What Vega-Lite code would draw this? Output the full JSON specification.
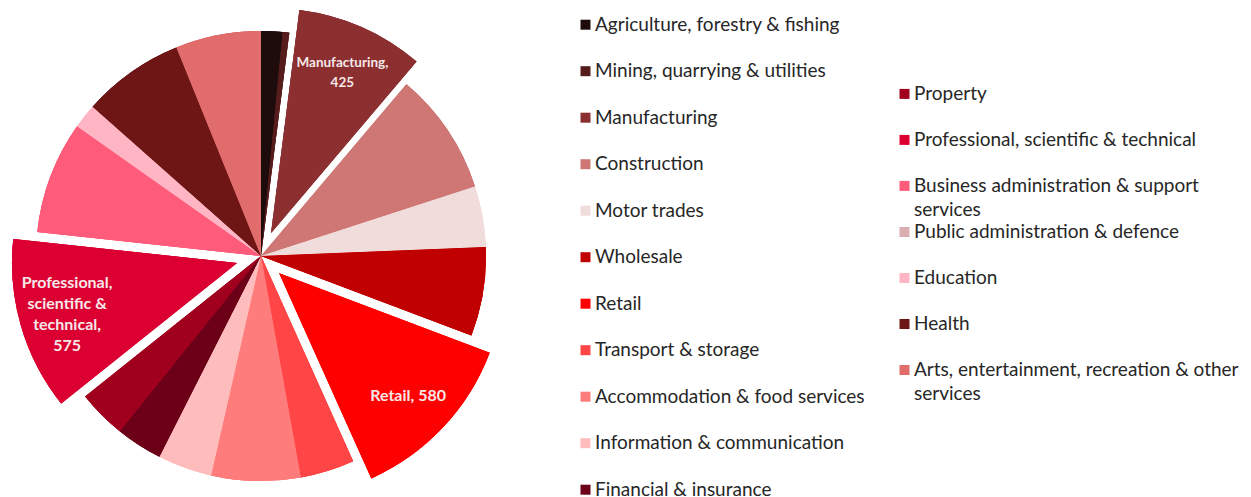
{
  "$schema": "https://vega.github.io/schema/vega-lite/v6.json",
  "width": 522,
  "height": 512,
  "padding": 0,
  "autosize": {"type": "pad"},
  "background": "white",
  "data": {
    "values": [
      {"sector": "Agriculture, forestry & fishing", "value": 71},
      {"sector": "Mining, quarrying & utilities", "value": 22},
      {"sector": "Manufacturing", "value": 425, "label": "Manufacturing,\n425"},
      {"sector": "Construction", "value": 408},
      {"sector": "Motor trades", "value": 202},
      {"sector": "Wholesale", "value": 296},
      {"sector": "Retail", "value": 580, "label": "Retail, 580"},
      {"sector": "Transport & storage", "value": 180},
      {"sector": "Accommodation & food services", "value": 296},
      {"sector": "Information & communication", "value": 180},
      {"sector": "Financial & insurance", "value": 155},
      {"sector": "Property", "value": 161},
      {"sector": "Professional, scientific & technical", "value": 575, "label": "Professional,\nscientific &\ntechnical,\n575"},
      {"sector": "Business administration & support services", "value": 374},
      {"sector": "Public administration & defence", "value": 0},
      {"sector": "Education", "value": 82},
      {"sector": "Health", "value": 339},
      {"sector": "Arts, entertainment, recreation & other services", "value": 284}
    ]
  },
  "transform": [
    {"joinaggregate": [{"op": "sum", "field": "value", "as": "total"}]},
    {"window": [{"op": "sum", "field": "value", "as": "cum"}], "frame": [null, 0]},
    {"calculate": "(datum.cum - datum.value) / datum.total", "as": "f0"},
    {"calculate": "datum.cum / datum.total", "as": "f1"},
    {"calculate": "(datum.f0 + datum.f1) / 2", "as": "fm"}
  ],
  "layer": [
    {
      "mark": {
        "type": "arc",
        "outerRadius": 225,
        "xOffset": {"expr": "indexof(['Manufacturing','Retail','Professional, scientific & technical'], datum.sector) >= 0 ? 25 * sin(PI * (datum.f0 + datum.f1)) : 0"},
        "yOffset": {"expr": "indexof(['Manufacturing','Retail','Professional, scientific & technical'], datum.sector) >= 0 ? -25 * cos(PI * (datum.f0 + datum.f1)) : 0"}
      },
      "encoding": {
        "theta": {"field": "f0", "type": "quantitative", "scale": {"domain": [0, 1]}, "stack": null},
        "theta2": {"field": "f1"},
        "color": {
          "field": "sector", "type": "nominal",
          "scale": {
            "domain": ["Agriculture, forestry & fishing", "Mining, quarrying & utilities", "Manufacturing", "Construction", "Motor trades", "Wholesale", "Retail", "Transport & storage", "Accommodation & food services", "Information & communication", "Financial & insurance", "Property", "Professional, scientific & technical", "Business administration & support services", "Public administration & defence", "Education", "Health", "Arts, entertainment, recreation & other services"],
            "range": ["#1e0c0c", "#561b1b", "#8c2f30", "#cf7775", "#f0dcdb", "#c00000", "#ff0000", "#ff4545", "#ff7c7c", "#ffbcbc", "#6b0018", "#a0001e", "#dc0032", "#ff5b7a", "#dbaeb2", "#ffb5c3", "#6e1616", "#e06c6c"]
          },
          "legend": {
            "title": null, "legendX": 576, "legendY": 15.2, "rowPadding": 26.5,
            "values": ["Agriculture, forestry & fishing", "Mining, quarrying & utilities", "Manufacturing", "Construction", "Motor trades", "Wholesale", "Retail", "Transport & storage", "Accommodation & food services", "Information & communication", "Financial & insurance"]
          }
        }
      }
    },
    {
      "mark": {
        "type": "arc",
        "outerRadius": 225,
        "xOffset": {"expr": "indexof(['Manufacturing','Retail','Professional, scientific & technical'], datum.sector) >= 0 ? 25 * sin(PI * (datum.f0 + datum.f1)) : 0"},
        "yOffset": {"expr": "indexof(['Manufacturing','Retail','Professional, scientific & technical'], datum.sector) >= 0 ? -25 * cos(PI * (datum.f0 + datum.f1)) : 0"}
      },
      "encoding": {
        "theta": {"field": "f0", "type": "quantitative", "scale": {"domain": [0, 1]}, "stack": null},
        "theta2": {"field": "f1"},
        "color": {
          "field": "sector", "type": "nominal",
          "scale": {
            "domain": ["Agriculture, forestry & fishing", "Mining, quarrying & utilities", "Manufacturing", "Construction", "Motor trades", "Wholesale", "Retail", "Transport & storage", "Accommodation & food services", "Information & communication", "Financial & insurance", "Property", "Professional, scientific & technical", "Business administration & support services", "Public administration & defence", "Education", "Health", "Arts, entertainment, recreation & other services"],
            "range": ["#1e0c0c", "#561b1b", "#8c2f30", "#cf7775", "#f0dcdb", "#c00000", "#ff0000", "#ff4545", "#ff7c7c", "#ffbcbc", "#6b0018", "#a0001e", "#dc0032", "#ff5b7a", "#dbaeb2", "#ffb5c3", "#6e1616", "#e06c6c"]
          },
          "legend": {
            "title": null, "legendX": 895, "legendY": 84.4, "rowPadding": 26,
            "values": ["Property", "Professional, scientific & technical", "Business administration & support services"],
            "labelExpr": "datum.label === 'Business administration & support services' ? ['Business administration & support', 'services'] : datum.label",
            "encode": {"labels": {"update": {"lineHeight": {"value": 24}}}}
          }
        }
      }
    },
    {
      "mark": {
        "type": "arc",
        "outerRadius": 225,
        "xOffset": {"expr": "indexof(['Manufacturing','Retail','Professional, scientific & technical'], datum.sector) >= 0 ? 25 * sin(PI * (datum.f0 + datum.f1)) : 0"},
        "yOffset": {"expr": "indexof(['Manufacturing','Retail','Professional, scientific & technical'], datum.sector) >= 0 ? -25 * cos(PI * (datum.f0 + datum.f1)) : 0"}
      },
      "encoding": {
        "theta": {"field": "f0", "type": "quantitative", "scale": {"domain": [0, 1]}, "stack": null},
        "theta2": {"field": "f1"},
        "color": {
          "field": "sector", "type": "nominal",
          "scale": {
            "domain": ["Agriculture, forestry & fishing", "Mining, quarrying & utilities", "Manufacturing", "Construction", "Motor trades", "Wholesale", "Retail", "Transport & storage", "Accommodation & food services", "Information & communication", "Financial & insurance", "Property", "Professional, scientific & technical", "Business administration & support services", "Public administration & defence", "Education", "Health", "Arts, entertainment, recreation & other services"],
            "range": ["#1e0c0c", "#561b1b", "#8c2f30", "#cf7775", "#f0dcdb", "#c00000", "#ff0000", "#ff4545", "#ff7c7c", "#ffbcbc", "#6b0018", "#a0001e", "#dc0032", "#ff5b7a", "#dbaeb2", "#ffb5c3", "#6e1616", "#e06c6c"]
          },
          "legend": {
            "title": null, "legendX": 895, "legendY": 222.5, "rowPadding": 26,
            "values": ["Public administration & defence", "Education", "Health", "Arts, entertainment, recreation & other services"],
            "labelExpr": "datum.label === 'Arts, entertainment, recreation & other services' ? ['Arts, entertainment, recreation & other', 'services'] : datum.label",
            "encode": {"labels": {"update": {"lineHeight": {"value": 24}}}}
          }
        }
      }
    },
    {
      "transform": [{"filter": "datum.label != null"}],
      "mark": {
        "type": "text",
        "radius": 177,
        "font": "Lato",
        "fontWeight": "bold",
        "fill": "#f6e8e8",
        "align": "center",
        "baseline": "middle",
        "lineBreak": "\n",
        "lineHeight": 20.7,
        "dy": {"expr": "2 - (length(split(datum.label, '\\n')) - 1) * 10.35"},
        "xOffset": {"expr": "25 * sin(PI * (datum.f0 + datum.f1))"},
        "yOffset": {"expr": "-25 * cos(PI * (datum.f0 + datum.f1))"}
      },
      "encoding": {
        "theta": {"field": "fm", "type": "quantitative", "scale": {"domain": [0, 1]}, "stack": null},
        "text": {"field": "label"},
        "size": {"condition": {"test": "datum.sector === 'Manufacturing'", "value": 13.5}, "value": 16}
      }
    }
  ],
  "resolve": {"scale": {"color": "independent"}},
  "config": {
    "view": {"stroke": null},
    "legend": {
      "orient": "none",
      "padding": 0,
      "symbolType": "square",
      "symbolSize": 100,
      "symbolStrokeWidth": 0,
      "labelFont": "Lato",
      "labelFontSize": 19,
      "labelColor": "#262626",
      "labelOffset": 0,
      "labelLimit": 500
    }
  }
}
